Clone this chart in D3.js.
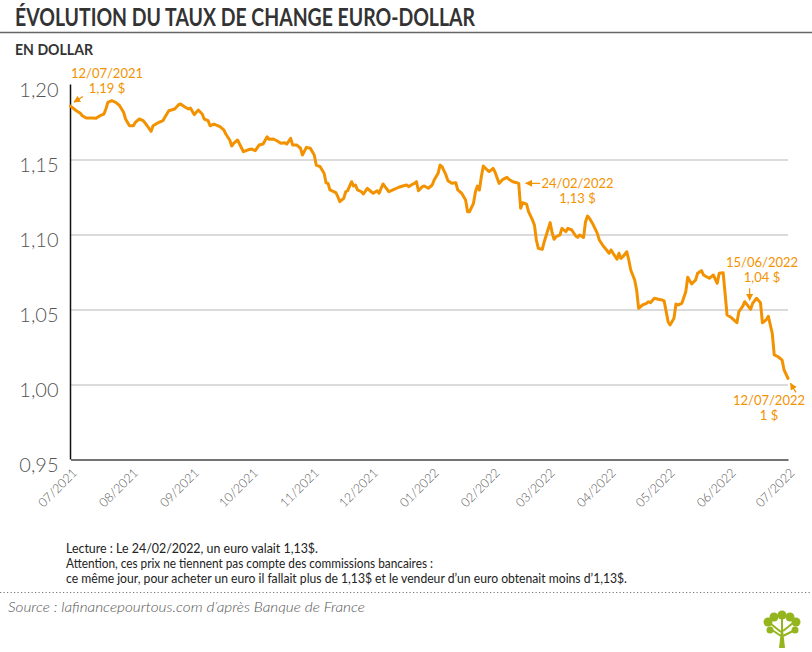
<!DOCTYPE html>
<html><head><meta charset="utf-8">
<script src="https://cdn.jsdelivr.net/npm/d3@7/dist/d3.min.js"></script>
<style>body{margin:0;background:#fff}svg{display:block}</style>
</head><body>
<svg id="c" width="812" height="652"></svg>
<script>
const dates = ["12/07/2021","15/07/2021","17/07/2021","18/07/2021","20/07/2021","23/07/2021","25/07/2021","27/07/2021","29/07/2021","30/07/2021","31/07/2021",
"02/08/2021","04/08/2021","06/08/2021","08/08/2021","09/08/2021","11/08/2021","13/08/2021","14/08/2021","16/08/2021","18/08/2021","20/08/2021","22/08/2021","23/08/2021","26/08/2021","28/08/2021","29/08/2021","31/08/2021",
"03/09/2021","05/09/2021","06/09/2021","08/09/2021","10/09/2021","11/09/2021","13/09/2021","15/09/2021","17/09/2021","18/09/2021","20/09/2021","21/09/2021","23/09/2021","26/09/2021","28/09/2021","29/09/2021",
"01/10/2021","02/10/2021","03/10/2021","05/10/2021","06/10/2021","08/10/2021","10/10/2021","12/10/2021","14/10/2021","16/10/2021","18/10/2021","20/10/2021","21/10/2021","23/10/2021","25/10/2021","27/10/2021","29/10/2021","30/10/2021",
"01/11/2021","02/11/2021","04/11/2021","06/11/2021","07/11/2021","09/11/2021","11/11/2021","13/11/2021","14/11/2021","16/11/2021","18/11/2021","19/11/2021","20/11/2021","21/11/2021","24/11/2021","25/11/2021","26/11/2021","28/11/2021","29/11/2021","30/11/2021",
"02/12/2021","03/12/2021","04/12/2021","05/12/2021","07/12/2021","08/12/2021","10/12/2021","12/12/2021","13/12/2021","15/12/2021","16/12/2021","17/12/2021","18/12/2021","19/12/2021","21/12/2021","23/12/2021","26/12/2021","28/12/2021","30/12/2021","31/12/2021",
"02/01/2022","03/01/2022","04/01/2022","05/01/2022","07/01/2022","08/01/2022","10/01/2022","12/01/2022","13/01/2022","15/01/2022","16/01/2022","17/01/2022","19/01/2022","20/01/2022","22/01/2022","24/01/2022","25/01/2022","27/01/2022","29/01/2022","30/01/2022","31/01/2022",
"02/02/2022","03/02/2022","04/02/2022","05/02/2022","06/02/2022","07/02/2022","09/02/2022","10/02/2022","12/02/2022","13/02/2022","15/02/2022","17/02/2022","19/02/2022","20/02/2022","22/02/2022","24/02/2022","25/02/2022","26/02/2022","27/02/2022",
"01/03/2022","02/03/2022","04/03/2022","05/03/2022","06/03/2022","07/03/2022","09/03/2022","10/03/2022","13/03/2022","14/03/2022","15/03/2022","16/03/2022","18/03/2022","19/03/2022","21/03/2022","22/03/2022","24/03/2022","26/03/2022","27/03/2022","28/03/2022","30/03/2022","31/03/2022",
"01/04/2022","02/04/2022","04/04/2022","06/04/2022","07/04/2022","09/04/2022","10/04/2022","12/04/2022","13/04/2022","14/04/2022","16/04/2022","17/04/2022","18/04/2022","19/04/2022","21/04/2022","22/04/2022","23/04/2022","25/04/2022","26/04/2022","27/04/2022","29/04/2022",
"01/05/2022","02/05/2022","03/05/2022","05/05/2022","07/05/2022","09/05/2022","10/05/2022","12/05/2022","13/05/2022","15/05/2022","16/05/2022","17/05/2022","19/05/2022","21/05/2022","22/05/2022","24/05/2022","26/05/2022","27/05/2022","29/05/2022","30/05/2022",
"01/06/2022","02/06/2022","04/06/2022","06/06/2022","07/06/2022","09/06/2022","10/06/2022","11/06/2022","13/06/2022","16/06/2022","17/06/2022","19/06/2022","20/06/2022","23/06/2022","24/06/2022","26/06/2022","28/06/2022","29/06/2022",
"01/07/2022","02/07/2022","04/07/2022","05/07/2022","07/07/2022","09/07/2022","10/07/2022","12/07/2022"];
const values = [1.1856,1.1825,1.1808,1.1792,1.1777,1.1777,1.1775,1.1792,1.1803,1.1837,1.1881,
1.1892,1.1881,1.1859,1.1815,1.1770,1.1725,1.1725,1.1748,1.1770,1.1759,1.1725,1.1688,1.1725,1.1748,1.1759,1.1781,1.1825,
1.1837,1.1865,1.1870,1.1852,1.1837,1.1843,1.1799,1.1830,1.1803,1.1770,1.1759,1.1725,1.1736,1.1719,1.1697,1.1670,
1.1630,1.1590,1.1608,1.1630,1.1603,1.1552,1.1563,1.1570,1.1559,1.1597,1.1603,1.1652,1.1635,1.1637,1.1625,1.1608,1.1612,1.1603,
1.1641,1.1597,1.1597,1.1575,1.1530,1.1581,1.1575,1.1530,1.1463,1.1452,1.1408,1.1345,1.1341,1.1297,1.1279,1.1252,1.1219,1.1241,1.1285,1.1292,
1.1352,1.1323,1.1330,1.1297,1.1285,1.1270,1.1308,1.1285,1.1275,1.1292,1.1275,1.1308,1.1337,1.1319,1.1285,1.1297,1.1315,1.1323,1.1330,1.1319,
1.1335,1.1341,1.1352,1.1292,1.1319,1.1323,1.1308,1.1330,1.1363,1.1408,1.1463,1.1452,1.1397,1.1359,1.1341,1.1345,1.1297,1.1275,1.1230,1.1152,1.1152,
1.1208,1.1285,1.1323,1.1297,1.1385,1.1457,1.1430,1.1419,1.1441,1.1415,1.1341,1.1368,1.1381,1.1368,1.1352,1.1345,1.1341,1.1175,1.1212,
1.1203,1.1152,1.1097,1.1063,1.0963,1.0908,1.0901,1.0952,1.1079,1.1012,1.0968,1.0985,1.0997,1.1041,1.1019,1.1041,1.1030,1.0990,1.0981,1.0997,1.0981,1.1085,
1.1123,1.1108,1.1063,1.1008,1.0963,1.0923,1.0908,1.0875,1.0897,1.0875,1.0835,1.0875,1.0841,1.0852,1.0885,1.0830,1.0763,1.0697,1.0630,1.0508,1.0530,
1.0541,1.0552,1.0545,1.0575,1.0568,1.0563,1.0557,1.0419,1.0397,1.0441,1.0537,1.0530,1.0541,1.0619,1.0715,1.0670,1.0697,1.0741,1.0759,1.0730,
1.0715,1.0708,1.0730,1.0675,1.0741,1.0745,1.0608,1.0463,1.0448,1.0412,1.0485,1.0523,1.0552,1.0501,1.0541,1.0575,1.0545,1.0411,
1.0433,1.0455,1.0341,1.0197,1.0185,1.0163,1.0097,1.0041];

const yTicks = [0.95, 1.00, 1.05, 1.10, 1.15, 1.20];
const gridTicks = [1.00, 1.05, 1.10, 1.15];
const tickDates = ["12/07/2021","12/08/2021","12/09/2021","12/10/2021","12/11/2021","12/12/2021","12/01/2022","12/02/2022","12/03/2022","12/04/2022","12/05/2022","12/06/2022","12/07/2022"];
const monthLabels = ["07/2021","08/2021","09/2021","10/2021","11/2021","12/2021","01/2022","02/2022","03/2022","04/2022","05/2022","06/2022","07/2022"];

const annotations = [
  {date:"12/07/2021", lines:["12/07/2021","1,19 $"]},
  {date:"25/02/2022", lines:["24/02/2022","1,13 $"]},
  {date:"23/06/2022", lines:["15/06/2022","1,04 $"]},
  {date:"12/07/2022", lines:["12/07/2022","1 $"]}
];
// layout of each annotation relative to its point (text centre, baselines, arrow tail/tip)
const annoLayout = [
  {tx:36.5, ty:[-28,-13], a:[12.5,-9.5,3.5,-4]},
  {tx:58.8, ty:[4.5,19.5], a:[21.5,0,7,0]},
  {tx:11.4, ty:[-42,-27], a:[-1,-21,-1,-9]},
  {tx:-19, ty:[27,42], a:[8,14,2.5,5]}
];

const ORANGE = "#F39200";
const parse = d3.timeParse("%d/%m/%Y");
const data = dates.map((d,i)=>({date:parse(d), value:values[i]}));

const svg = d3.select("#c");
const margin = {left:70.5, right:24, top:84.5, bottom:192.5};
const W = 812, H = 652;
const FONT = "Lato, 'Open Sans', sans-serif";

const x = d3.scaleTime().domain([parse(dates[0]), parse(dates[dates.length-1])]).range([margin.left, W - margin.right]);
const y = d3.scaleLinear().domain([0.95, 1.20]).range([H - margin.bottom, margin.top]);

// Title
svg.append("text").attr("x",15).attr("y",26)
  .attr("font-family",FONT).attr("font-weight","700").attr("font-size",24)
  .attr("fill","#333").attr("textLength",460).attr("lengthAdjust","spacingAndGlyphs")
  .text("ÉVOLUTION DU TAUX DE CHANGE EURO-DOLLAR");
svg.append("line").attr("x1",0).attr("x2",W).attr("y1",32.5).attr("y2",32.5)
  .attr("stroke","#666").attr("stroke-width",1.5);
svg.append("text").attr("x",15).attr("y",54.5)
  .attr("font-family",FONT).attr("font-weight","700").attr("font-size",15.5)
  .attr("fill","#333").attr("textLength",78).attr("lengthAdjust","spacingAndGlyphs")
  .text("EN DOLLAR");

// grid
const grid = svg.append("g").attr("transform",`translate(${margin.left},0)`)
  .call(d3.axisLeft(y).tickValues(gridTicks).tickSize(-(W - margin.right - margin.left)).tickFormat(""));
grid.select(".domain").remove();
grid.selectAll(".tick line").attr("stroke","#cfcfcf").attr("stroke-width",1.5);

// y axis
const fmt = v => d3.format(".2f")(v).replace(".", ",");
const yAx = svg.append("g").attr("transform",`translate(${margin.left},0)`)
  .call(d3.axisLeft(y).tickValues(yTicks).tickSize(0).tickPadding(12).tickFormat(fmt));
yAx.select(".domain").attr("stroke","#111").attr("stroke-width",1.5)
  .attr("d", `M0,${y(1.20)}V${y(0.95)}`);
yAx.selectAll(".tick text").attr("font-family",FONT).attr("font-weight","300")
  .attr("font-size",20).attr("fill","#555").attr("dy","0.62em");

// x axis
const xAx = svg.append("g").attr("transform",`translate(0,${y(0.95)})`)
  .call(d3.axisBottom(x).tickValues(tickDates.map(parse)).tickSize(0).tickFormat((d,i)=>monthLabels[i]));
xAx.select(".domain").attr("stroke","#444").attr("stroke-width",1.5);
xAx.selectAll(".tick text").attr("font-family",FONT).attr("font-weight","300")
  .attr("font-size",12.5).attr("fill","#555").attr("text-anchor","end")
  .attr("x",0).attr("y",0).attr("dy",0)
  .attr("transform","translate(7,14) rotate(-45)");

// line
svg.append("path").datum(data)
  .attr("fill","none").attr("stroke",ORANGE).attr("stroke-width",3)
  .attr("stroke-linejoin","round").attr("stroke-linecap","round")
  .attr("d", d3.line().x(d=>x(d.date)).y(d=>y(d.value)));

// annotations
const defs = svg.append("defs");
defs.append("marker").attr("id","ah").attr("viewBox","0 0 10 10").attr("refX",9).attr("refY",5)
  .attr("markerWidth",7).attr("markerHeight",7).attr("markerUnits","userSpaceOnUse").attr("orient","auto")
  .append("path").attr("d","M0,0L10,5L0,10Z").attr("fill",ORANGE);

annotations.forEach((a,i)=>{
  const L = annoLayout[i];
  const pt = data.find(d=>+d.date === +parse(a.date));
  const px = x(pt.date), py = y(pt.value);
  a.lines.forEach((t,j)=>{
    svg.append("text").attr("x",px+L.tx).attr("y",py+L.ty[j])
      .attr("text-anchor","middle").attr("font-family",FONT)
      .attr("font-size",13).attr("fill",ORANGE).text(t);
  });
  svg.append("line").attr("x1",px+L.a[0]).attr("y1",py+L.a[1]).attr("x2",px+L.a[2]).attr("y2",py+L.a[3])
    .attr("stroke",ORANGE).attr("stroke-width",1.2).attr("marker-end","url(#ah)");
});

// footnotes
const notes = ["Lecture : Le 24/02/2022, un euro valait 1,13$.",
  "Attention, ces prix ne tiennent pas compte des commissions bancaires :",
  "ce même jour, pour acheter un euro il fallait plus de 1,13$ et le vendeur d’un euro obtenait moins d’1,13$."];
const noteW = [252, 367, 561];
notes.forEach((t,i)=>{
  svg.append("text").attr("x",66).attr("y",553+i*15)
    .attr("font-family",FONT).attr("font-size",12.5).attr("fill","#222")
    .attr("textLength",noteW[i]).attr("lengthAdjust","spacingAndGlyphs").text(t);
});
svg.append("line").attr("x1",0).attr("x2",W).attr("y1",592.5).attr("y2",592.5)
  .attr("stroke","#777").attr("stroke-width",1.2).attr("stroke-dasharray","1.2,2.3");
svg.append("text").attr("x",8).attr("y",612)
  .attr("font-family",FONT).attr("font-style","italic").attr("font-weight","300").attr("font-size",13.5)
  .attr("fill","#555").attr("textLength",357).attr("lengthAdjust","spacingAndGlyphs")
  .text("Source : lafinancepourtous.com d’après Banque de France");

// logo (tree)
const logo = svg.append("g").attr("fill","#95B51E").attr("stroke","#95B51E");
logo.append("path").attr("d","M779,648 L781,630 L783,630 L785,648 Z").attr("stroke","none");
[[781,632,771,624],[783,631,793,623],[782,630,782,618],[781,636,772,630],[783,636,793,631]].forEach(b=>{
  logo.append("line").attr("x1",b[0]).attr("y1",b[1]).attr("x2",b[2]).attr("y2",b[3]).attr("stroke-width",2);
});
[[768,622,4.5],[774,617,4.5],[782,615,4.5],[790,617,4.5],[796,622,4.5],[770,630,3.5],[795,630,3.5]].forEach(c=>{
  logo.append("circle").attr("cx",c[0]).attr("cy",c[1]).attr("r",c[2]).attr("stroke","none");
});
</script>
</body></html>
